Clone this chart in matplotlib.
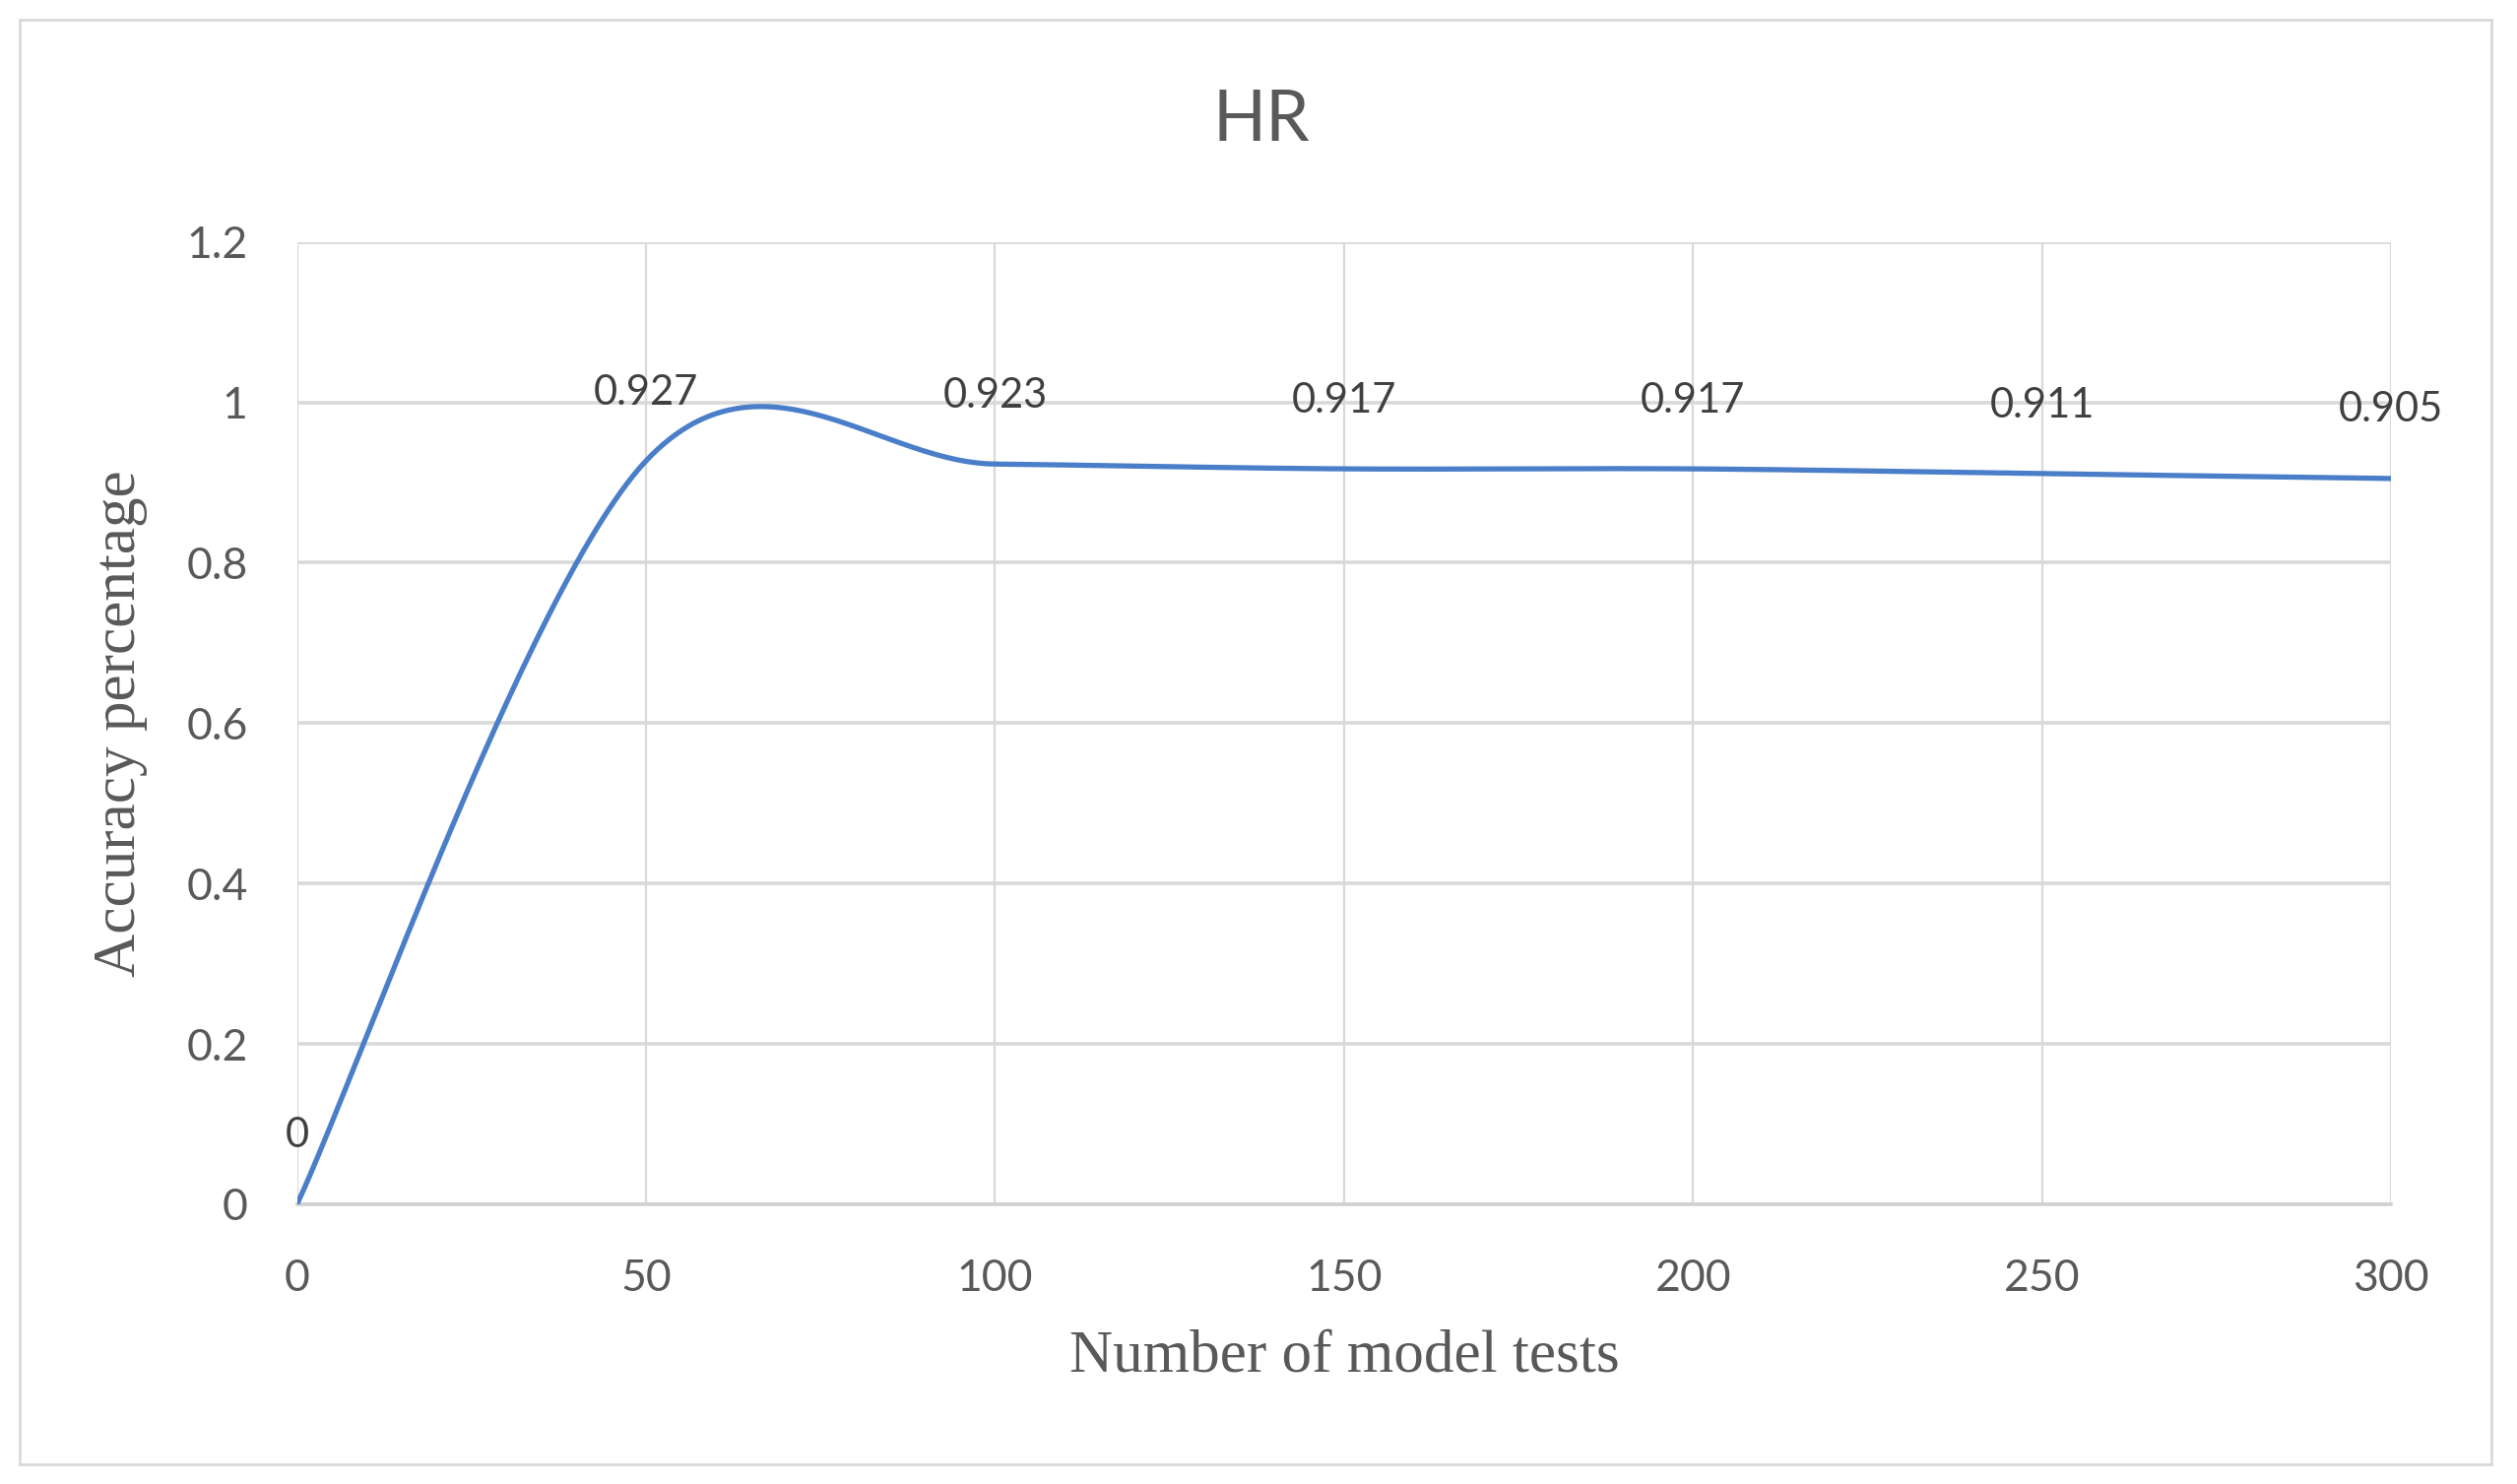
import numpy as np
import matplotlib
matplotlib.use('Agg')
import matplotlib.pyplot as plt
from matplotlib.patches import Rectangle

tests = [0, 50, 100, 150, 200, 250, 300]
accuracy = [0, 0.927, 0.923, 0.917, 0.917, 0.911, 0.905]
x_ticks = [0, 50, 100, 150, 200, 250, 300]
y_ticks = [0, 0.2, 0.4, 0.6, 0.8, 1.0, 1.2]
y_tick_labels = ['0', '0.2', '0.4', '0.6', '0.8', '1', '1.2']


def excel_smooth(xs, ys, n=60):
    # Excel-style smoothed line: Bezier segments, tangents from neighbours / 6
    p = np.column_stack([xs, ys]).astype(float)
    out = []
    for i in range(len(p) - 1):
        p0 = p[i - 1] if i > 0 else p[i]
        p1, p2 = p[i], p[i + 1]
        p3 = p[i + 2] if i + 2 < len(p) else p[i + 1]
        c1 = p1 + (p2 - p0) / 6
        c2 = p2 - (p3 - p1) / 6
        t = np.linspace(0, 1, n)[:, None]
        seg = ((1 - t) ** 3) * p1 + 3 * ((1 - t) ** 2) * t * c1 \
            + 3 * (1 - t) * t ** 2 * c2 + t ** 3 * p2
        out.append(seg if i == 0 else seg[1:])
    out = np.vstack(out)
    return out[:, 0], out[:, 1]


fig = plt.figure(figsize=(25.56, 15.07), dpi=100)
ax = fig.add_axes([0.118, 0.1885, 0.832, 0.6485])

# outer chart border
fig.patches.append(Rectangle((0.008, 0.013), 0.982, 0.974, transform=fig.transFigure,
                             fill=False, edgecolor='#d9d9d9', linewidth=2))

sx, sy = excel_smooth(tests, accuracy)
ax.plot(sx, sy, color='#4a7ec9', linewidth=3.8, solid_capstyle='round', zorder=3)

for x, y in zip(tests, accuracy):
    label = '0' if y == 0 else '%.3f' % y
    ax.annotate(label, (x, y), xytext=(0, 50), textcoords='offset points',
                ha='center', va='center', fontsize=30, color='#404040', family='Lato')

ax.set_xlim(0, 300)
ax.set_ylim(0, 1.2)
ax.set_xticks(x_ticks)
ax.set_yticks(y_ticks)
ax.set_yticklabels(y_tick_labels)
ax.tick_params(length=0, labelsize=32, labelcolor='#595959')
ax.tick_params(axis='x', pad=40)
ax.tick_params(axis='y', pad=36)
for lab in ax.get_xticklabels() + ax.get_yticklabels():
    lab.set_family('Lato')

ax.grid(True, axis='y', color='#d9d9d9', linewidth=2.6)
ax.grid(True, axis='x', color='#d9d9d9', linewidth=1.6)
for side in ['top', 'right', 'left']:
    ax.spines[side].set_visible(False)
ax.spines['bottom'].set_color('#d0d0d0')
ax.spines['bottom'].set_linewidth(2.6)

ax.set_xlabel('Number of model tests', fontsize=44, color='#595959',
              family='Liberation Serif', labelpad=22)
ax.set_ylabel('Accuracy percentage', fontsize=44, color='#595959',
              family='Liberation Serif', labelpad=28)
fig.text(0.501, 0.919, 'HR', ha='center', va='center', fontsize=51,
         color='#595959', family='Lato')

fig.savefig('out.png', dpi=100)
